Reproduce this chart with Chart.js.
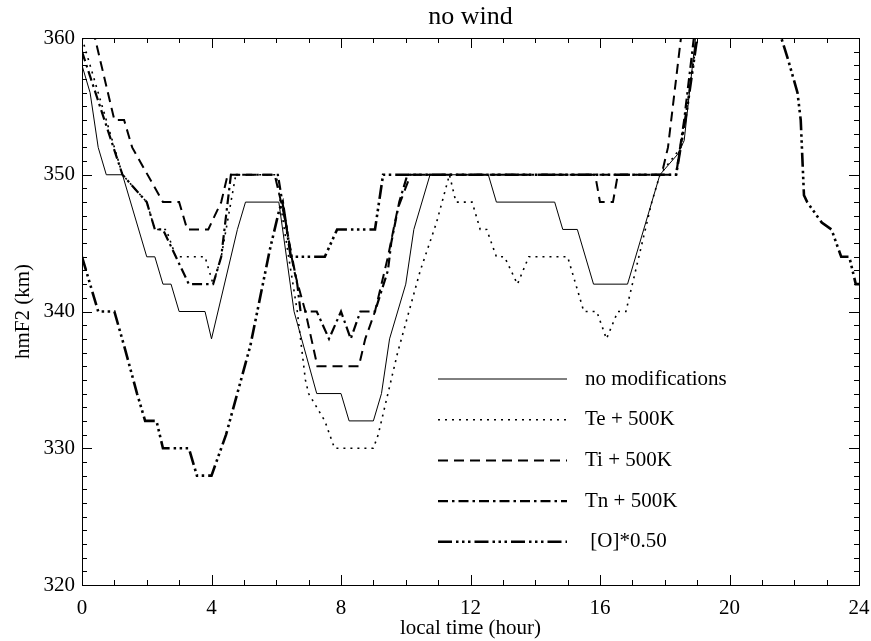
<!DOCTYPE html>
<html lang="en">
<head>
<meta charset="UTF-8">
<title>hmF2 - no wind</title>
<style>
  html, body { margin: 0; padding: 0; background: #fff; }
  #wrap { width: 871px; height: 641px; position: relative; }
</style>
<script src="https://cdn.jsdelivr.net/npm/chart.js"></script>
</head>
<body>
<div id="wrap"><canvas id="hmf2Chart"></canvas></div>
<script>
// local time (hour) / hmF2 (km), one pair of arrays per run
// (values above 360 only carry the curve off the top of the frame)
const tNoMod = [0, 0.25, 0.5, 0.75, 1.25, 2.0, 2.25, 2.5, 2.75, 3.0, 3.8, 4.0, 4.8, 5.05, 6.08, 6.55, 7.25, 8.0, 8.25, 9.0, 9.25, 9.5, 10.0, 10.25, 10.75, 12.55, 12.8, 14.6, 14.85, 15.3, 15.8, 16.85, 17.85, 18.4, 18.6, 18.95, 19.3, 24];
const hNoMod = [358, 356, 352, 350, 350, 344, 344, 342, 342, 340, 340, 338, 346, 348, 348, 340, 334, 334, 332, 332, 334, 338, 342, 346, 350, 350, 348, 348, 346, 346, 342, 342, 350, 351.5, 352.5, 360, 366, 366];

const tTe = [0, 1.25, 2.0, 2.25, 2.6, 2.9, 3.8, 4.05, 4.3, 4.75, 6.0, 6.25, 6.65, 6.9, 7.0, 7.5, 7.8, 9.0, 9.15, 9.75, 10.45, 10.95, 11.35, 11.55, 12.05, 12.3, 12.5, 12.8, 13.05, 13.45, 13.8, 15.0, 15.5, 15.9, 16.2, 16.55, 16.8, 17.4, 17.6, 17.85, 18.5, 19.0, 19.3, 24];
const hTe = [360, 350, 348, 346, 346, 344, 344, 342, 344, 350, 350, 346, 340, 335, 334, 332, 330, 330, 331, 337, 343, 346.5, 350, 348, 348, 346, 346, 344, 344, 342, 344, 344, 340, 340, 338, 340, 340, 346, 348, 350, 352, 360, 366, 366];

const tTi = [0, 0.4, 1.0, 1.3, 1.55, 2.5, 3.0, 3.25, 3.9, 4.3, 4.5, 5.95, 6.25, 6.55, 6.9, 7.27, 8.55, 8.75, 9.05, 9.45, 9.75, 10.15, 15.85, 16.0, 16.4, 16.55, 17.9, 18.1, 18.3, 18.5, 18.7, 24];
const hTi = [364, 360, 354, 354, 352, 348, 348, 346, 346, 348, 350, 350, 347, 343, 340, 336, 336, 338, 340, 344, 347.5, 350, 350, 348, 348, 350, 350, 352, 356, 360, 366, 366];

const tTn = [0, 1.25, 2.0, 2.25, 2.5, 3.3, 4.05, 4.3, 4.6, 6.05, 6.4, 6.65, 6.75, 7.25, 7.63, 8.0, 8.3, 8.6, 9.05, 9.45, 9.55, 9.8, 10.05, 18.35, 18.6, 18.9, 19.2, 24];
const hTn = [359, 350, 348, 346, 346, 342, 342, 344, 350, 350, 345, 342, 340, 340, 338, 340, 338, 340, 340, 343, 345, 348, 350, 350, 354, 360, 366, 366];

const tO = [0, 0.25, 0.5, 1.0, 1.3, 1.7, 1.95, 2.3, 2.5, 3.3, 3.55, 4.0, 4.45, 5.2, 5.5, 5.8, 6.1, 6.2, 6.45, 7.5, 7.88, 9.05, 9.3, 18.35, 18.7, 19.0, 19.3, 21.3, 21.6, 21.8, 22.1, 22.2, 22.3, 22.4, 22.85, 23.15, 23.45, 23.7, 23.9, 24];
const hO = [344, 342, 340, 340, 337.5, 334, 332, 332, 330, 330, 328, 328, 331, 337.5, 341, 344.5, 347.5, 348, 344, 344, 346, 346, 350, 350, 355, 360, 366, 366, 360, 358.5, 356, 354, 348.5, 348, 346.5, 346, 344, 344, 342, 342];

const seriesLabels = ['no modifications', 'Te + 500K', 'Ti + 500K', 'Tn + 500K', ' [O]*0.50'];

const pts = (t, h) => t.map((x, i) => ({ x: x, y: h[i] }));

Chart.defaults.font.family = "'Liberation Serif', 'Times New Roman', serif";
Chart.defaults.color = '#000';

// line styles for the five runs
const styles = [
  { borderWidth: 1,   borderDash: [] },
  { borderWidth: 1.6, borderDash: [2, 5] },
  { borderWidth: 2,   borderDash: [10, 6] },
  { borderWidth: 2.2, borderDash: [10, 4, 2.5, 4] },
  { borderWidth: 2.6, borderDash: [14, 4, 2.5, 3.5, 2.5, 3.5, 2.5, 4] }
];
const series = [pts(tNoMod, hNoMod), pts(tTe, hTe), pts(tTi, hTi), pts(tTn, hTn), pts(tO, hO)];

// box, inward ticks on all four sides, and the legend inside the plot
const frame = {
  id: 'frame',
  afterDraw(chart) {
    const { ctx, chartArea: a, scales: { x, y } } = chart;
    ctx.save();
    ctx.strokeStyle = '#000';
    ctx.lineWidth = 1;
    ctx.setLineDash([]);
    ctx.strokeRect(a.left + 0.5, a.top + 0.5, a.right - a.left, a.bottom - a.top);
    ctx.beginPath();
    for (let h = 0; h <= 24; h++) {
      const px = Math.round(x.getPixelForValue(h)) + 0.5;
      const len = h % 4 === 0 ? 10 : 5;
      ctx.moveTo(px, a.bottom); ctx.lineTo(px, a.bottom - len);
      ctx.moveTo(px, a.top); ctx.lineTo(px, a.top + len);
    }
    for (let km = 320; km <= 360; km++) {
      const py = Math.round(y.getPixelForValue(km)) + 0.5;
      const len = km % 10 === 0 ? 10 : 5;
      ctx.moveTo(a.left, py); ctx.lineTo(a.left + len, py);
      ctx.moveTo(a.right, py); ctx.lineTo(a.right - len, py);
    }
    ctx.stroke();

    // legend
    ctx.font = "21px 'Liberation Serif', serif";
    ctx.fillStyle = '#000';
    ctx.textBaseline = 'middle';
    seriesLabels.forEach((lab, i) => {
      const yy = 379 + i * 40.7;
      ctx.beginPath();
      ctx.lineWidth = styles[i].borderWidth;
      ctx.setLineDash(styles[i].borderDash);
      ctx.moveTo(438, yy); ctx.lineTo(567, yy);
      ctx.stroke();
      ctx.fillText(lab, 585, yy);
    });
    ctx.restore();
  }
};

new Chart(document.getElementById('hmf2Chart'), {
  type: 'line',
  data: {
    datasets: series.map((d, i) => ({
      label: seriesLabels[i],
      data: d,
      borderColor: '#000',
      borderWidth: styles[i].borderWidth,
      borderDash: styles[i].borderDash,
      borderCapStyle: 'butt',
      pointRadius: 0,
      tension: 0,
      fill: false
    }))
  },
  options: {
    responsive: true,
    maintainAspectRatio: false,
    animation: false,
    layout: { padding: { left: 0, right: 12, top: 0, bottom: 0 } },
    plugins: {
      legend: { display: false },
      tooltip: { enabled: false },
      title: {
        display: true,
        text: 'no wind',
        fullSize: false,
        font: { size: 26, weight: 'normal' },
        padding: { top: 2, bottom: 4.8 }
      }
    },
    scales: {
      x: {
        type: 'linear',
        min: 0, max: 24,
        ticks: { stepSize: 4, font: { size: 21 }, padding: 11, maxRotation: 0 },
        grid: { display: false, drawTicks: false },
        border: { display: false },
        title: { display: true, text: 'local time (hour)', font: { size: 21 }, padding: { top: 0, bottom: 0 } },
        afterFit: s => { s.height = 56; s.paddingLeft = 0; s.paddingRight = 0; }
      },
      y: {
        min: 320, max: 360,
        ticks: { stepSize: 10, font: { size: 21 }, padding: 7 },
        grid: { display: false, drawTicks: false },
        border: { display: false },
        title: { display: true, text: 'hmF2 (km)', font: { size: 21 }, padding: { top: 11, bottom: 0 } },
        afterFit: s => { s.width = 82; }
      }
    }
  },
  plugins: [frame]
});
</script>
</body>
</html>
